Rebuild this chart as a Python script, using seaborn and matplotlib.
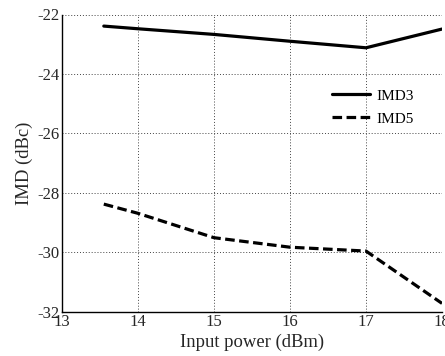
import matplotlib
matplotlib.use("Agg")
import matplotlib.pyplot as plt
import seaborn as sns
import pandas as pd

x_imd3 = [13.55, 14, 15, 16, 17, 18]
y_imd3 = [-22.39, -22.48, -22.67, -22.9, -23.12, -22.49]
x_imd5 = [13.55, 14, 15, 16, 17, 18]
y_imd5 = [-28.38, -28.69, -29.51, -29.83, -29.96, -31.72]
xticks = [13, 14, 15, 16, 17, 18]
yticks = [-32, -30, -28, -26, -24, -22]

sns.set_style("white")
plt.rcParams['font.family'] = ['Liberation Serif', 'DejaVu Serif']

fig = plt.figure(figsize=(4.45, 3.56), dpi=100)
ax = fig.add_axes([62/445, 1-311.7/356, (442-62)/445, (311.7-14.5)/356])

df3 = pd.DataFrame({"x": x_imd3, "y": y_imd3})
df5 = pd.DataFrame({"x": x_imd5, "y": y_imd5})
sns.lineplot(data=df3, x="x", y="y", ax=ax, color="black", linewidth=2.3, label="IMD3")
sns.lineplot(data=df5, x="x", y="y", ax=ax, color="black", linewidth=2.3, label="IMD5")
ax.lines[1].set_dashes([3.0, 1.4])

ax.set_xlim(13, 18)
ax.set_ylim(-32, -22)
ax.set_xticks(xticks)
ax.set_yticks(yticks)
ax.set_xticklabels([str(v) for v in xticks], fontsize=12)
ax.set_yticklabels(["-" + str(abs(v)) for v in yticks], fontsize=12)
ax.tick_params(axis="both", length=0, pad=2)
ax.set_xlabel("Input power (dBm)", fontsize=13.4, labelpad=2)
ax.set_ylabel("IMD (dBc)", fontsize=13.4, labelpad=3)
ax.grid(True, linestyle=(0, (1, 2)), color="#444444", linewidth=0.7)
for s in ["top", "right"]:
    ax.spines[s].set_visible(False)
for s in ["left", "bottom"]:
    ax.spines[s].set_color("black")
    ax.spines[s].set_linewidth(1.0)

leg = ax.legend(loc="upper left", bbox_to_anchor=(0.69, 0.775), frameon=False,
                fontsize=11, handlelength=2.5, handletextpad=0.4, labelspacing=0.6,
                borderpad=0)
for t in leg.get_texts():
    t.set_color("black")

fig.savefig("out.png", dpi=100)
